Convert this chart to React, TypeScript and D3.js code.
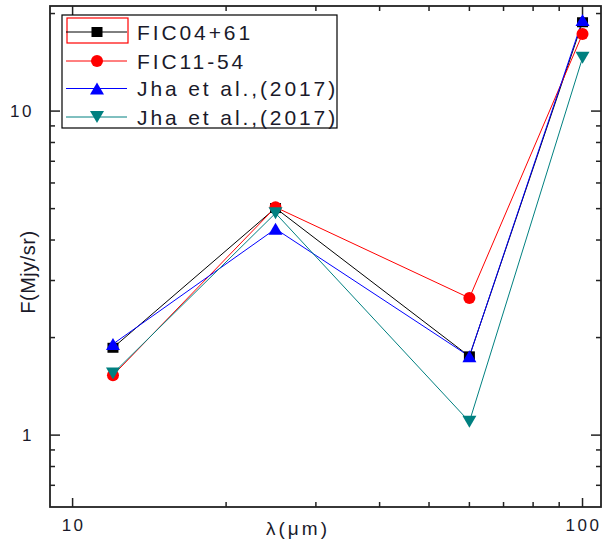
import React from "react";
import * as d3 from "d3";

const wavelengths = [12, 25, 60, 100];
const seriesNames = ["FIC04+61", "FIC11-54", "Jha et al.,(2017)", "Jha et al.,(2017)"];
const fic0461 = [1.86, 5.02, 1.75, 18.8];
const fic1154 = [1.53, 5.05, 2.65, 17.3];
const jhaBlue = [1.91, 4.33, 1.75, 19.1];
const jhaTeal = [1.55, 4.84, 1.1, 14.6];
const seriesColors = ["#000000", "#ff0000", "#0000ff", "#008080"];
const seriesMarkers = ["square", "circle", "triangleUp", "triangleDown"];
const xMajorTicks = [10, 100];
const xMinorTicks = [20, 30, 40, 50, 60, 70, 80, 90];
const yMajorTicks = [1, 10];
const yMinorTicks = [0.7, 0.8, 0.9, 2, 3, 4, 5, 6, 7, 8, 9, 20];
const xLabel = "λ(μm)";
const yLabel = "F(Mjy/sr)";

const W = 609;
const H = 543;
const left = 50;
const right = 601;
const top = 6;
const bottom = 507;

const x = d3.scaleLog().domain([9.03, 108.7]).range([left, right]);
const y = d3.scaleLog().domain([0.6, 21.1]).range([bottom, top]);

function Marker({ type, cx, cy, color }: { type: string; cx: number; cy: number; color: string }) {
  if (type === "square") return <rect x={cx - 5.5} y={cy - 5} width={11} height={10} fill={color} />;
  if (type === "circle") return <circle cx={cx} cy={cy} r={6} fill={color} />;
  const w = 14, h = 12;
  if (type === "triangleUp")
    return <path d={`M${cx},${cy - h / 2}L${cx + w / 2},${cy + h / 2}L${cx - w / 2},${cy + h / 2}Z`} fill={color} />;
  return <path d={`M${cx},${cy + h / 2}L${cx + w / 2},${cy - h / 2}L${cx - w / 2},${cy - h / 2}Z`} fill={color} />;
}

export default function App() {
  const allSeries = [fic0461, fic1154, jhaBlue, jhaTeal];
  const line = d3
    .line<number>()
    .x((_, i) => x(wavelengths[i]))
    .y((v) => y(v));
  const axisColor = "#222";
  const font = "'Liberation Sans', Arial, sans-serif";
  const legendRows = [32, 61, 88.5, 117];
  return (
    <svg width={W} height={H} style={{ position: "absolute", left: 0, top: 0, background: "#fff" }}>
      <rect x={0} y={0} width={W} height={H} fill="#fff" />
      {/* ticks */}
      {xMajorTicks.map((t) => (
        <g key={"xM" + t} stroke={axisColor} strokeWidth={1.5}>
          <line x1={x(t)} x2={x(t)} y1={bottom} y2={bottom - 9} />
          <line x1={x(t)} x2={x(t)} y1={top} y2={top + 9} />
        </g>
      ))}
      {xMinorTicks.map((t) => (
        <g key={"xm" + t} stroke={axisColor} strokeWidth={1.5}>
          <line x1={x(t)} x2={x(t)} y1={bottom} y2={bottom - 5} />
          <line x1={x(t)} x2={x(t)} y1={top} y2={top + 5} />
        </g>
      ))}
      {yMajorTicks.map((t) => (
        <g key={"yM" + t} stroke={axisColor} strokeWidth={1.5}>
          <line x1={left} x2={left + 10} y1={y(t)} y2={y(t)} />
          <line x1={right} x2={right - 10} y1={y(t)} y2={y(t)} />
        </g>
      ))}
      {yMinorTicks.map((t) => (
        <g key={"ym" + t} stroke={axisColor} strokeWidth={1.5}>
          <line x1={left} x2={left + 5} y1={y(t)} y2={y(t)} />
          <line x1={right} x2={right - 5} y1={y(t)} y2={y(t)} />
        </g>
      ))}
      <rect x={left} y={top} width={right - left} height={bottom - top} fill="none" stroke={axisColor} strokeWidth={1.8} />
      {/* tick labels */}
      {xMajorTicks.map((t) => (
        <text key={"xl" + t} x={x(t) + 1} y={531} textAnchor="middle" fontFamily={font} fontSize={17} letterSpacing={2.5} fill="#1a1a2a">
          {String(t)}
        </text>
      ))}
      {yMajorTicks.map((t) => (
        <text key={"yl" + t} x={34} y={y(t) + 6} textAnchor="end" fontFamily={font} fontSize={17} letterSpacing={2.5} fill="#1a1a2a">
          {String(t)}
        </text>
      ))}
      <text x={298} y={535} textAnchor="middle" fontFamily={font} fontSize={19} letterSpacing={3} fill="#1a1a2a">
        {xLabel}
      </text>
      <text
        transform={`translate(35,272) rotate(-90)`}
        textAnchor="middle"
        fontFamily={font}
        fontSize={20}
        letterSpacing={0.5}
        fill="#1a1a2a"
      >
        {yLabel}
      </text>
      {/* series */}
      {allSeries.map((s, si) => (
        <path key={"l" + si} d={line(s) || ""} fill="none" stroke={seriesColors[si]} strokeWidth={1} />
      ))}
      {allSeries.map((s, si) => (
        <g key={"m" + si}>
          {s.map((v, i) => (
            <Marker key={i} type={seriesMarkers[si]} cx={x(wavelengths[i])} cy={y(v)} color={seriesColors[si]} />
          ))}
        </g>
      ))}
      {/* legend */}
      <rect x={62} y={15} width={275} height={113} fill="#fff" stroke="#000" strokeWidth={1.2} />
      <rect x={67} y={18} width={61} height={25} fill="none" stroke="#ff0000" strokeWidth={1.2} />
      {seriesNames.map((name, i) => (
        <g key={"lg" + i}>
          <line x1={66} x2={127} y1={legendRows[i]} y2={legendRows[i]} stroke={seriesColors[i]} strokeWidth={1} />
          <Marker type={seriesMarkers[i]} cx={97} cy={legendRows[i]} color={seriesColors[i]} />
          <text x={137} y={legendRows[i] + 7.5} fontFamily={font} fontSize={21} letterSpacing={2.9} fill="#1a1a2a">
            {name}
          </text>
        </g>
      ))}
    </svg>
  );
}
